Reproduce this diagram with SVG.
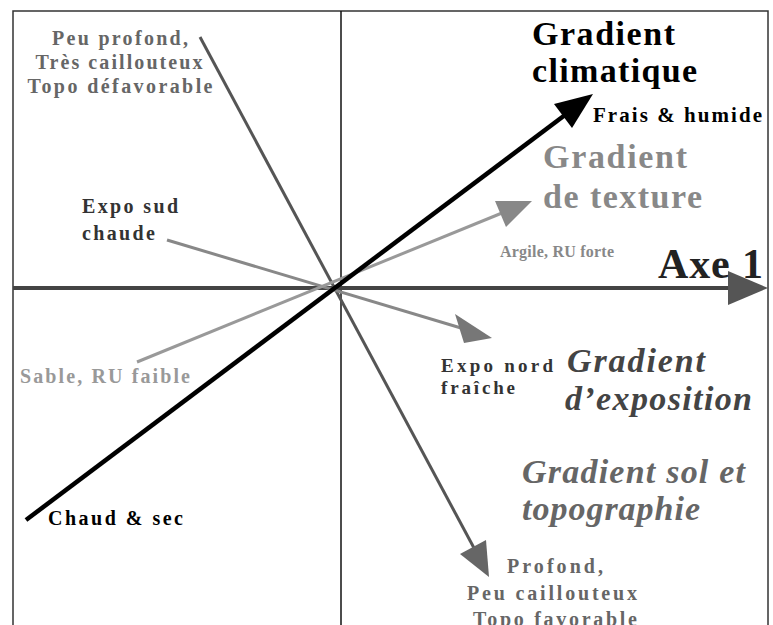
<svg xmlns="http://www.w3.org/2000/svg" width="773" height="625" viewBox="0 0 773 625">
<style>
  .t { font-family: "Liberation Serif", "Times New Roman", serif; font-weight: bold; }
  .i { font-style: italic; }
  .frame { fill: none; stroke: #333; stroke-width: 1.5; }
</style>
<rect x="0" y="0" width="773" height="625" fill="#fff"/>
<rect class="frame" x="13" y="11" width="755" height="640"/>
<line x1="341" y1="11" x2="341" y2="625" stroke="#111" stroke-width="1.5"/>
<g id="connectors">
  <!-- Axe 1 -->
  <line x1="13" y1="288" x2="730" y2="288" stroke="#444" stroke-width="4"/>
  <polygon points="728,271 768,288 728,305" fill="#555"/>
  <!-- soil / topography -->
  <line x1="200" y1="37" x2="474" y2="548" stroke="#555" stroke-width="3"/>
  <polygon points="486,540 460,554 489,577" fill="#666"/>
  <!-- exposition -->
  <line x1="167" y1="240" x2="461" y2="328" stroke="#888" stroke-width="3"/>
  <polygon points="455,314 464,343 492,338" fill="#777"/>
  <!-- texture -->
  <line x1="137" y1="362" x2="502" y2="213" stroke="#999" stroke-width="3"/>
  <polygon points="495,201 506,227 532,201" fill="#888"/>
  <!-- climatic -->
  <line x1="26" y1="520" x2="565" y2="115" stroke="#000" stroke-width="4.5"/>
  <polygon points="554,104 572,128 593,94" fill="#000"/>
</g>
<g id="n-peu-profond" class="t" fill="#666" font-size="20" text-anchor="middle">
  <text x="120" y="45" textLength="136" lengthAdjust="spacing">Peu profond,</text>
  <text x="119" y="69" textLength="167" lengthAdjust="spacing">Très caillouteux</text>
  <text x="120" y="93" textLength="185" lengthAdjust="spacing">Topo défavorable</text>
</g>
<g id="n-expo-sud" class="t" fill="#333" font-size="20">
  <text x="82" y="213" textLength="96" lengthAdjust="spacing">Expo sud</text>
  <text x="82" y="240" textLength="73" lengthAdjust="spacing">chaude</text>
</g>
<g id="n-sable" class="t" fill="#999" font-size="20">
  <text x="20" y="383" textLength="170" lengthAdjust="spacing">Sable, RU faible</text>
</g>
<g id="n-chaud" class="t" fill="#000" font-size="20">
  <text x="48" y="525" textLength="135" lengthAdjust="spacing">Chaud &amp; sec</text>
</g>
<g id="n-grad-clim" class="t" fill="#000" font-size="34">
  <text x="532" y="45" textLength="143" lengthAdjust="spacing">Gradient</text>
  <text x="532" y="82" textLength="165" lengthAdjust="spacing">climatique</text>
</g>
<g id="n-frais" class="t" fill="#000" font-size="21">
  <text x="593" y="122" textLength="169" lengthAdjust="spacing">Frais &amp; humide</text>
</g>
<g id="n-grad-texture" class="t" fill="#888" font-size="34">
  <text x="543" y="168" textLength="144" lengthAdjust="spacing">Gradient</text>
  <text x="543" y="208" textLength="159" lengthAdjust="spacing">de texture</text>
</g>
<g id="n-argile" class="t" fill="#888" font-size="16">
  <text x="500" y="257" textLength="114" lengthAdjust="spacing">Argile, RU forte</text>
</g>
<g id="n-axe1" class="t" fill="#222" font-size="42">
  <text x="658" y="278" textLength="105" lengthAdjust="spacing">Axe 1</text>
</g>
<g id="n-expo-nord" class="t" fill="#333" font-size="19">
  <text x="441" y="372" textLength="112" lengthAdjust="spacing">Expo nord</text>
  <text x="441" y="394" textLength="74" lengthAdjust="spacing">fraîche</text>
</g>
<g id="n-grad-expo" class="t i" fill="#444" font-size="34">
  <text x="567" y="372" textLength="138" lengthAdjust="spacing">Gradient</text>
  <text x="565" y="410" textLength="187" lengthAdjust="spacing">d’exposition</text>
</g>
<g id="n-grad-sol" class="t i" fill="#666" font-size="34">
  <text x="522" y="483" textLength="223" lengthAdjust="spacing">Gradient sol et</text>
  <text x="522" y="520" textLength="178" lengthAdjust="spacing">topographie</text>
</g>
<g id="n-profond" class="t" fill="#666" font-size="20" text-anchor="middle">
  <text x="555" y="573" textLength="96" lengthAdjust="spacing">Profond,</text>
  <text x="552" y="600" textLength="170" lengthAdjust="spacing">Peu caillouteux</text>
  <text x="555" y="626" textLength="164" lengthAdjust="spacing">Topo favorable</text>
</g>
</svg>
